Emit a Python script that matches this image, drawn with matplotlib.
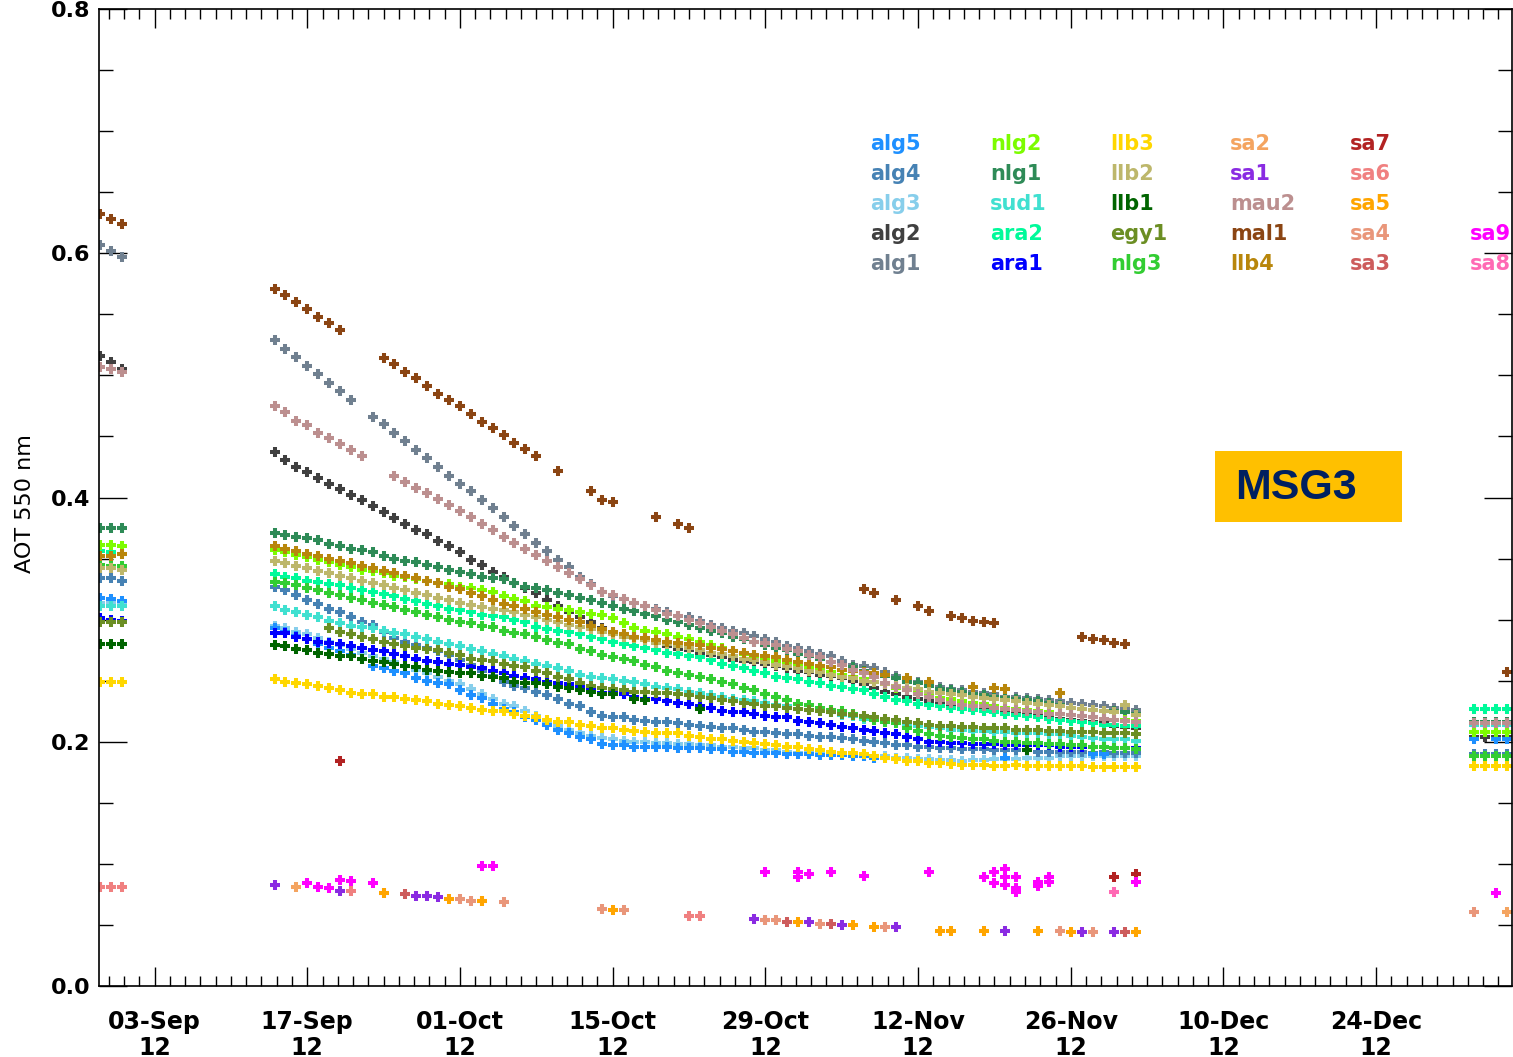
import numpy as np
import matplotlib
matplotlib.use("Agg")
import matplotlib.pyplot as plt
from matplotlib.patches import Rectangle
from matplotlib.ticker import FixedLocator

N = None

# Day offsets relative to 03-Sep-2012: three days before the gap, the autumn run, early January
days = [-5, -4, -3] + list(range(11, 91)) + [121, 122, 123, 124]

# Daily AOT at 550 nm per site (early block, d11..d90 in rows of ten, January block)
alg1 = [.607, .602, .597,
        .529, .522, .515, .508, .501, .494, .487, .480, N, .466,
        .460, .453, .446, .439, .432, .425, .418, .411, .405, .398,
        .391, .384, .377, .370, .363, .356, .349, .343, .335, .329,
        .323, .319, .317, .314, .311, .309, .306, .303, .302, .299,
        .296, .293, .291, .289, .287, .284, .282, .278, .277, .274,
        .272, .270, .266, .263, .262, .260, .257, .254, .252, .249,
        .247, .245, .243, .242, .241, .240, .239, .237, .237, .236,
        .235, .234, .233, .232, .231, .230, .229, .228, .227, .226,
        N, N, N, N]
alg2 = [.516, .511, .505,
        .437, .431, .425, .421, .416, .411, .407, .402, .398, .393,
        .388, .383, .378, .373, .370, .364, .360, .355, .349, .345,
        .339, .335, .330, .326, .322, .316, .311, .306, .302, .298,
        .293, .289, .288, .286, .284, .281, .278, .276, .275, .273,
        .271, .269, .267, .266, .265, .264, .262, .260, .258, .257,
        .255, .254, .252, .250, .247, .244, .241, .239, .237, .235,
        .233, .231, .229, .228, .227, .226, .225, .224, .223, .222,
        .221, .220, .219, .218, .217, .216, .215, .213, .212, .211,
        .204, .204, .204, .204]
alg3 = [.314, .314, .314,
        .295, .293, .290, .288, .285, .282, .279, .276, .273, .270,
        .268, .265, .262, .259, .256, .253, .250, .247, .243, .239,
        .235, .231, .229, .225, .221, .217, .213, .210, .207, .205,
        .203, .202, .201, .200, .200, .199, .199, .198, .198, .197,
        .197, .196, .196, .195, .195, .193, .193, .192, .191, .191,
        .190, .190, .189, .189, .188, .188, .188, .187, .187, .186,
        .186, .185, .185, .184, .185, .185, .186, .186, .186, .187,
        .187, .187, .188, .188, .188, .188, .188, .188, .188, .188,
        .189, .189, .189, .189]
alg4 = [.334, .334, .332,
        .327, .324, .320, .316, .313, .309, .306, .302, .298, .296,
        .290, .285, .282, .279, .277, .274, .271, .267, .263, .258,
        .254, .249, .246, .244, .241, .238, .235, .231, .229, .224,
        .221, .220, .220, .218, .217, .216, .216, .215, .214, .213,
        .212, .211, .211, .210, .208, .208, .207, .206, .206, .205,
        .204, .204, .203, .202, .201, .200, .199, .197, .197, .196,
        .196, .195, .195, .194, .194, .194, .193, .193, .193, .193,
        .192, .192, .192, .192, .192, .191, .192, .191, .191, .191,
        .190, .190, .190, .190]
alg5 = [.318, .317, .315,
        .293, .290, .287, .284, .280, .277, .274, .271, .268, .262,
        .260, .258, .256, .252, .250, .248, .247, .242, .238, .236,
        .231, .227, .224, .220, .218, .214, .210, .207, .204, .202,
        .198, .197, .197, .196, .196, .196, .196, .195, .195, .195,
        .194, .194, .192, .192, .191, .191, .191, .190, .190, .190,
        .189, .189, .189, .188, .188, .187, .187, N, N, N,
        N, N, N, N, N, N, N, .187, N, N,
        N, N, N, N, N, .190, .190, N, N, N,
        .202, N, .202, .202]
ara1 = [.301, .300, .299,
        .289, .289, .286, .284, .282, .281, .280, .278, .277, .275,
        .274, .272, .270, .268, .266, .265, .264, .263, .261, .260,
        .258, .256, .254, .252, .251, .249, .248, .247, .245, .242,
        .240, .240, .239, .237, .235, .235, .233, .232, .231, .229,
        .228, .225, .224, .224, .223, .221, .220, .220, .217, .216,
        .215, .214, .212, .211, .210, .209, .207, .206, .204, .202,
        .200, .200, .199, .199, .198, .198, .198, .197, .197, .197,
        .197, .197, .196, .196, .196, .196, .196, .195, .195, .195,
        .208, .208, .208, .208]
ara2 = [.356, .355, .354,
        .337, .335, .334, .332, .331, .329, .328, .326, .324, .323,
        .321, .319, .317, .315, .313, .311, .309, .308, .306, .304,
        .303, .302, .300, .298, .294, .292, .291, .290, .288, .286,
        .284, .282, .280, .278, .277, .275, .273, .272, .270, .269,
        .267, .264, .262, .260, .258, .256, .253, .252, .251, .249,
        .248, .246, .245, .243, .242, .239, .237, .234, .233, .231,
        .230, .229, .228, .227, .226, .225, .224, .223, .222, .221,
        .220, .219, .218, .217, .216, .215, .214, .214, .213, .213,
        .227, .227, .227, .227]
sud1 = [.311, .311, .311,
        .311, .308, .306, .304, .302, .299, .297, .295, .294, .293,
        .291, .289, .288, .286, .284, .282, .280, .278, .276, .274,
        .272, .270, .268, .266, .264, .262, .260, .258, .255, .253,
        .252, .251, .250, .249, .247, .245, .244, .243, .241, .240,
        .238, .237, .235, .234, .233, .232, .230, .229, .227, .226,
        .225, .224, .222, .221, .219, .218, .217, .216, .214, .213,
        .212, .211, .210, .210, .209, .209, .208, .208, .207, .207,
        .207, .206, .206, .205, .204, .203, .202, .202, .202, .201,
        .214, .214, .214, .214]
nlg1 = [.375, .375, .375,
        .371, .369, .368, .367, .365, .362, .360, .358, .357, .355,
        .352, .350, .348, .347, .345, .343, .341, .339, .337, .335,
        .334, .333, .330, .327, .326, .324, .322, .320, .318, .316,
        .314, .311, .309, .307, .305, .303, .300, .298, .296, .293,
        .291, .289, .286, .284, .282, .279, .277, .275, .272, .270,
        .268, .265, .263, .261, .258, .256, .254, .252, .249, .248,
        .246, .243, .242, .241, .239, .238, .237, .236, .235, .234,
        .233, .232, .230, .228, .227, .226, .225, .225, .224, .223,
        .216, .216, .216, .216]
nlg2 = [.361, .361, .360,
        .357, .355, .353, .351, .349, .347, .345, .343, .341, .340,
        .338, .336, .335, .333, .332, .330, .329, .327, .326, .324,
        .323, .319, .317, .315, .311, .310, .309, .308, .306, .305,
        .304, .301, .297, .293, .291, .290, .288, .286, .284, .282,
        .279, .277, .274, .272, .270, .268, .266, .264, .263, .261,
        .259, .257, .255, .253, .251, .249, .247, .244, .242, .240,
        .238, .236, .235, .233, .232, .231, .229, .228, .227, .226,
        .225, .224, .223, .222, .221, .220, .219, .218, .218, .217,
        .208, .208, .208, .208]
nlg3 = [.345, .344, .344,
        .331, .330, .328, .326, .324, .322, .320, .318, .316, .314,
        .312, .310, .308, .306, .304, .302, .300, .298, .297, .295,
        .294, .291, .289, .288, .286, .283, .281, .280, .276, .274,
        .271, .269, .268, .266, .263, .261, .258, .256, .255, .253,
        .251, .249, .247, .244, .242, .239, .237, .234, .231, .230,
        .228, .226, .225, .223, .220, .218, .216, .215, .211, .209,
        .206, .205, .204, .203, .202, .202, .201, .200, .200, .199,
        .199, .198, .198, .197, .197, .196, .196, .195, .195, .194,
        .188, .188, .188, .188]
egy1 = [.298, .298, .298,
        N, N, N, N, N, .293, .290, .288, .286, .284,
        .282, .280, .278, .277, .276, .275, .273, .271, .268, .267,
        .266, .264, .262, .261, .258, .256, .253, .251, .248, .246,
        .244, .243, .242, .241, .241, .240, .240, .239, .238, .237,
        .236, .234, .233, .232, .231, .229, .229, .228, .227, .226,
        .225, .224, .223, .222, .221, .220, .219, .218, .216, .215,
        .214, .213, .213, .212, .212, .211, .211, .211, .210, .210,
        .210, .209, .209, .208, .208, .208, .207, .207, .207, .206,
        N, N, N, N]
llb1 = [.280, .280, .280,
        .279, .278, .276, .275, .273, .272, .270, .270, .268, .266,
        .265, .264, .262, .261, .259, .258, .257, .256, .256, .254,
        .253, .252, .249, .248, .248, .247, .245, .244, .242, .241,
        .239, .239, N, .235, .234, N, N, N, N, .227,
        N, N, N, N, N, N, N, N, N, N,
        N, N, N, N, N, N, N, N, N, N,
        N, N, N, N, N, N, N, N, N, .193,
        N, N, N, N, N, N, N, N, N, N,
        N, N, N, N]
llb2 = [.342, .342, .341,
        .348, .346, .344, .342, .340, .338, .336, .334, .332, .330,
        .328, .326, .324, .322, .320, .318, .316, .314, .312, .310,
        .309, .308, .306, .304, .302, .300, .298, .296, .294, .292,
        .290, .288, .286, .285, .283, .281, .280, .278, .277, .275,
        .273, .272, .270, .268, .267, .265, .263, .262, .260, .258,
        .257, .255, .253, .252, .250, .249, .247, .246, .244, .243,
        .241, .240, .239, .238, .237, .236, .235, .234, .233, .232,
        .231, .230, .229, .228, .227, .226, .225, .224, .230, .222,
        N, N, N, N]
llb3 = [.249, .249, .249,
        .251, .249, .248, .247, .246, .244, .242, .240, .239, .239,
        .237, .237, .235, .234, .233, .231, .230, .229, .228, .226,
        .225, .225, .223, .221, .220, .218, .216, .216, .214, .213,
        .211, .211, .210, .209, .208, .207, .207, .207, .205, .204,
        .202, .202, .201, .200, .199, .198, .197, .196, .196, .194,
        .193, .192, .191, .191, .190, .188, .187, .186, .184, .184,
        .183, .183, .182, .181, .181, .181, .180, .180, .181, .180,
        .180, .180, .180, .180, .180, .179, .179, .179, .179, .179,
        .180, .180, .180, .180]
llb4 = [.352, .352, .354,
        .360, .358, .356, .354, .352, .350, .348, .346, .344, .342,
        .340, .338, .336, .334, .332, .330, .327, .325, .322, .319,
        .316, .313, .311, .309, .306, .304, .302, .300, .298, .295,
        .292, .290, .288, .286, .285, .283, .282, .281, .280, .279,
        .277, .276, .274, .273, .271, .270, .269, .267, .265, .264,
        .262, .261, .259, .258, .257, .256, .255, N, .252, N,
        .249, N, N, N, .245, N, .244, .243, N, N,
        N, N, .240, N, N, N, N, N, N, N,
        N, N, N, N]
mal1 = [.632, .628, .624,
        .571, .566, .560, .554, .548, .543, .537, N, N, N,
        .514, .509, .503, .498, .491, .485, .480, .475, .468, .462,
        .457, .451, .445, .440, .434, N, .422, N, N, .405,
        .398, .396, N, N, N, .384, N, .378, .375, N,
        N, N, N, N, N, N, N, N, N, N,
        N, N, N, N, .325, .322, N, .316, N, .311,
        .307, N, .303, .301, .299, .298, .297, N, N, N,
        N, N, N, N, .286, .284, .283, .281, .280, N,
        N, N, N, .257]
mau2 = [.507, .505, .503,
        .475, .470, .463, .459, .453, .449, .444, .439, .434, N,
        N, .418, .413, .408, .404, .399, .394, .389, .384, .378,
        .373, .368, .363, .358, .353, .348, .343, .338, .333, .328,
        .323, .320, .317, .314, .311, .308, .305, .303, .300, .297,
        .294, .291, .288, .285, .282, .281, .279, .276, .274, .271,
        .269, .265, .263, .259, .256, .253, .248, .245, .242, .239,
        .237, .234, .232, .230, .229, .229, .228, .227, .226, .225,
        .224, .223, .223, .222, .221, .220, .219, .218, .217, .216,
        .215, .215, .215, .215]

# Sparse sites: observation days and values
sa1_days = [-5, 11, 17, 21, 24, 25, 26, 30, 55, 56, 60, 63, 68, 78, 85, 88]
sa1_vals = [.081, .083, .078, .076, .074, .074, .073, .070, .055, .054, .052, .050, .048, .045, .044, .044]
sa2_days = [13, 124]
sa2_vals = [.081, .061]
sa3_days = [23, 58, 62, 89]
sa3_vals = [.075, .052, .051, .044]
sa4_days = [28, 29, 32, 41, 43, 56, 57, 61, 67, 83, 86, 121]
sa4_vals = [.071, .070, .069, .063, .062, .054, .054, .051, .048, .045, .044, .061]
sa5_days = [21, 27, 30, 42, 59, 64, 66, 72, 73, 76, 81, 84, 90]
sa5_vals = [.076, .071, .070, .062, .052, .050, .048, .045, .045, .045, .045, .044, .044]
sa6_days = [-5, -4, -3, 18, 49, 50]
sa6_vals = [.081, .081, .081, .078, .057, .057]
sa7_days = [17, 88, 90]
sa7_vals = [.184, .089, .092]
sa8_days = [88]
sa8_vals = [.077]
sa9_days = [14, 15, 16, 17, 18, 20, 30, 31, 56, 59, 59, 60, 62, 65, 71, 76, 77, 77,
            78, 78, 78, 79, 79, 79, 81, 81, 82, 82, 90, 123]
sa9_vals = [.084, .081, .080, .087, .086, .084, .098, .098, .093, .093, .089, .092,
            .093, .090, .093, .089, .093, .084, .096, .089, .083, .089, .080, .077,
            .085, .082, .085, .089, .085, .076]

site_names = ["alg1", "alg2", "alg3", "alg4", "alg5",
              "ara1", "ara2", "sud1", "nlg1", "nlg2",
              "nlg3", "egy1", "llb1", "llb2", "llb3",
              "llb4", "mal1", "mau2", "sa1", "sa2",
              "sa3", "sa4", "sa5", "sa6", "sa7",
              "sa8", "sa9"]
site_colors = ["#708090", "#404040", "#87CEEB", "#4682B4", "#1E90FF",
               "#0000FF", "#00FA9A", "#40E0D0", "#2E8B57", "#7CFC00",
               "#32CD32", "#6B8E23", "#006400", "#BDB76B", "#FFD700",
               "#B8860B", "#8B4513", "#BC8F8F", "#8A2BE2", "#F4A460",
               "#CD5C5C", "#E9967A", "#FFA500", "#F08080", "#B22222",
               "#FF69B4", "#FF00FF"]

daily = {"alg1": alg1, "alg2": alg2, "alg3": alg3, "alg4": alg4, "alg5": alg5,
         "ara1": ara1, "ara2": ara2, "sud1": sud1, "nlg1": nlg1, "nlg2": nlg2,
         "nlg3": nlg3, "egy1": egy1, "llb1": llb1, "llb2": llb2, "llb3": llb3,
         "llb4": llb4, "mal1": mal1, "mau2": mau2}
sparse = {"sa1": (sa1_days, sa1_vals), "sa2": (sa2_days, sa2_vals),
          "sa3": (sa3_days, sa3_vals), "sa4": (sa4_days, sa4_vals),
          "sa5": (sa5_days, sa5_vals), "sa6": (sa6_days, sa6_vals),
          "sa7": (sa7_days, sa7_vals), "sa8": (sa8_days, sa8_vals),
          "sa9": (sa9_days, sa9_vals)}

tick_days = [0, 14, 28, 42, 56, 70, 84, 98, 112]
tick_labels = ["03-Sep\n12", "17-Sep\n12", "01-Oct\n12", "15-Oct\n12", "29-Oct\n12",
               "12-Nov\n12", "26-Nov\n12", "10-Dec\n12", "24-Dec\n12"]

W, H = 1513, 1057
fig = plt.figure(figsize=(W / 100, H / 100), dpi=100)
ax = fig.add_axes([99 / W, 71 / H, 1413 / W, 977 / H])

for name, color in zip(site_names, site_colors):
    if name in daily:
        x = np.array(days, dtype=float)
        y = np.array([np.nan if v is None else v for v in daily[name]], dtype=float)
    else:
        x = np.array(sparse[name][0], dtype=float)
        y = np.array(sparse[name][1], dtype=float)
    ax.plot(x, y, ls="none", marker="+", ms=7, mew=2.9, color=color)

ax.set_xlim(-5.09, 124.45)
ax.set_ylim(0.0, 0.8)

ax.set_xticks(tick_days)
ax.set_xticklabels(tick_labels)
ax.xaxis.set_minor_locator(FixedLocator([k * 1.4 for k in range(-3, 89)]))
ax.set_yticks([0.0, 0.2, 0.4, 0.6, 0.8])
ax.set_yticklabels(["0.0", "0.2", "0.4", "0.6", "0.8"])
ax.yaxis.set_minor_locator(FixedLocator([0.05 * k for k in range(17)]))

ax.tick_params(which="both", direction="in", top=True, right=True, width=1.0, color="black")
ax.tick_params(axis="x", which="major", length=14, pad=17)
ax.tick_params(axis="x", which="minor", length=7)
ax.tick_params(axis="y", which="major", length=20.5, pad=6)
ax.tick_params(axis="y", which="minor", length=10)
for lbl in ax.get_xticklabels():
    lbl.set_fontsize(17)
    lbl.set_fontweight("bold")
    lbl.set_linespacing(1.12)
for lbl in ax.get_yticklabels():
    lbl.set_fontsize(16)
    lbl.set_fontweight("bold")
for sp in ax.spines.values():
    sp.set_linewidth(1.2)

fig.text(25 / W, 1 - 504 / H, "AOT 550 nm", rotation=90, ha="center", va="center",
         fontsize=16)

# Site legend: columns of five, listed bottom-up
for i, (name, color) in enumerate(zip(site_names, site_colors)):
    col, row = divmod(i, 5)
    fx = (870 + 120 * col) / W
    fy = 1 - (270 - 30 * row) / H
    fig.text(fx, fy, name, color=color, fontsize=15, fontweight="bold",
             ha="left", va="baseline")

fig.patches.append(Rectangle((1215 / W, 1 - 522 / H), 187 / W, 71 / H,
                             transform=fig.transFigure, facecolor="#FFC000",
                             edgecolor="none", zorder=5))
fig.text(1235 / W, 1 - 488 / H, "MSG3", color="#002060", fontsize=31,
         fontweight="bold", family="Liberation Sans", ha="left", va="center", zorder=6)

fig.savefig("out.png", dpi=100)
